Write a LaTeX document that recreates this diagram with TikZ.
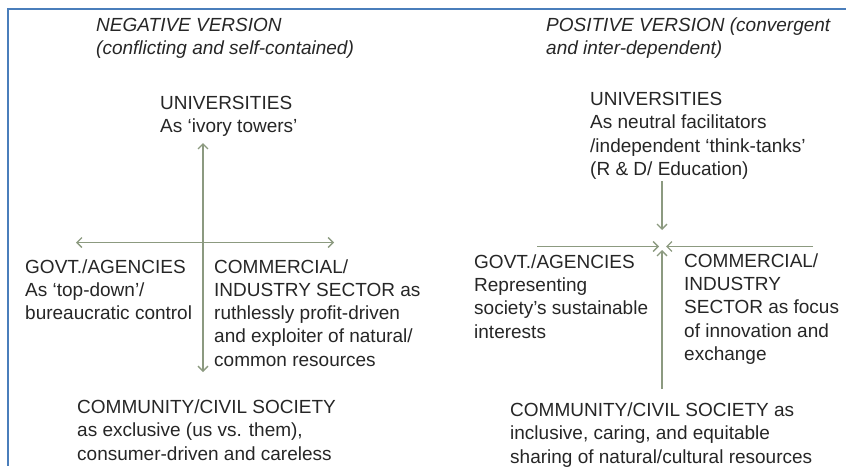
\documentclass[tikz,border=0pt]{standalone}
\usepackage{fontspec}
\setmainfont{Liberation Sans}
\usetikzlibrary{arrows.meta}

\definecolor{axisgreen}{HTML}{8C9A80}
\definecolor{frameblue}{HTML}{4A7EBB}
\definecolor{txtgray}{HTML}{262626}

% blurbs are placed by the baseline of their last line
\tikzset{
  blurb/.style={anchor=base west, align=left, inner sep=0pt, text=txtgray,
    font=\fontsize{19}{23.3}\selectfont},
  heading/.style={blurb, font=\fontsize{19}{23.3}\selectfont\itshape},
  axis/.style={draw=axisgreen, line width=1.3pt},
}

\begin{document}
\begin{tikzpicture}[x=1pt, y=-1pt, >={Straight Barb[length=5pt,width=10pt]}]
  \useasboundingbox (0,0) rectangle (846,466);
  % frame
  \draw [frameblue, line width=2pt] (846,8.5) -- (7.5,8.5) -- (7.5,466);

  % negative version
  \node (negTitle) at (96,54.3) [heading] {NEGATIVE VERSION\\(conflicting and self-contained)};
  \node (uniNeg) at (160,132.3) [blurb] {UNIVERSITIES\\As ‘ivory towers’};
  \node (govNeg) at (25,319.6) [blurb] {GOVT./AGENCIES\\As ‘top-down’/\\bureaucratic control};
  \node (comNeg) at (214,366.2) [blurb] {COMMERCIAL/\\INDUSTRY SECTOR as\\ruthlessly profit-driven\\and exploiter of natural/\\common resources};
  \node (civNeg) at (77,460.1) [blurb] {COMMUNITY/CIVIL SOCIETY\\as exclusive (us vs. them),\\consumer-driven and careless};
  \coordinate (negN) at (203,143);
  \coordinate (negS) at (203,372);
  \coordinate (negW) at (76,242.5);
  \coordinate (negE) at (334,242.5);
  \draw [axis, <->] (negN) -- (negS);
  \draw [axis, <->] (negW) -- (negE);

  % positive version
  \node (posTitle) at (546,54.3) [heading] {POSITIVE VERSION (convergent\\and inter-dependent)};
  \node (uniPos) at (590,175.4) [blurb] {UNIVERSITIES\\As neutral facilitators\\/independent ‘think-tanks’\\(R \& D/ Education)};
  \node (govPos) at (474,338.2) [blurb] {GOVT./AGENCIES\\Representing\\society’s sustainable\\interests};
  \node (comPos) at (684,360.5) [blurb] {COMMERCIAL/\\INDUSTRY\\SECTOR as focus\\of innovation and\\exchange};
  \node (civPos) at (510,463.1) [blurb] {COMMUNITY/CIVIL SOCIETY as\\inclusive, caring, and equitable\\sharing of natural/cultural resources};
  \coordinate (posN) at (662,181);
  \coordinate (posNtip) at (662,230);
  \coordinate (posW) at (537,246.5);
  \coordinate (posWtip) at (659,246.5);
  \coordinate (posE) at (813,246.5);
  \coordinate (posEtip) at (666,246.5);
  \coordinate (posS) at (662,389);
  \coordinate (posStip) at (662,250);
  \draw [axis, ->] (posN) -- (posNtip);
  \draw [axis, ->] (posW) -- (posWtip);
  \draw [axis, ->] (posE) -- (posEtip);
  \draw [axis, ->] (posS) -- (posStip);
\end{tikzpicture}
\end{document}
